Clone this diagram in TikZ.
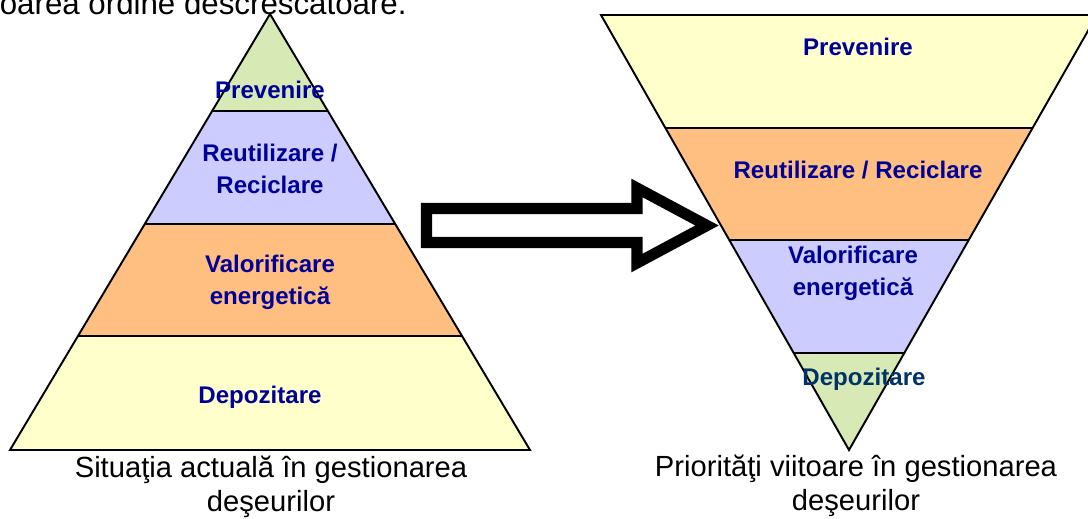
\documentclass[tikz,border=0pt]{standalone}
\usepackage{fontspec}
\setmainfont{Liberation Sans}
\definecolor{lblblue}{RGB}{0,0,153}
\definecolor{lbldark}{RGB}{0,51,102}
\definecolor{bandgreen}{RGB}{215,233,180}
\definecolor{bandviolet}{RGB}{204,204,255}
\definecolor{bandorange}{RGB}{255,191,128}
\definecolor{bandyellow}{RGB}{255,255,204}
\begin{document}
\begin{tikzpicture}[
                            x=0.02cm, y=-0.02cm,
                            >=latex,
                            bandtxt/.style={font=\bfseries\fontsize{13.7}{18.2}\selectfont, text=lblblue, align=center, inner sep=0pt},
                            captxt/.style={font=\fontsize{16.6}{19}\selectfont, align=center, inner sep=0pt},
                            outline/.style={draw=black, line width=1.1pt, line join=miter}
                        ]
                        \clip (0,0) rectangle (1088,518);

                        % Left pyramid
                        \begin{scope}
                            \clip (270,14) -- (530,450) -- (10,450) -- cycle;
                            \fill[bandgreen] (0,0) rectangle (1088,111);
                            \fill[bandviolet] (0,111) rectangle (1088,224);
                            \fill[bandorange] (0,224) rectangle (1088,336);
                            \fill[bandyellow] (0,336) rectangle (1088,450);
                            \draw[outline] (0,111) -- (1088,111) (0,224) -- (1088,224) (0,336) -- (1088,336);
                        \end{scope}
                        \draw[outline] (270,14) -- (530,450) -- (10,450) -- cycle;

                        % Right pyramid
                        \begin{scope}
                            \clip (601,15) -- (1097,15) -- (849,450) -- cycle;
                            \fill[bandyellow] (560,0) rectangle (1100,128);
                            \fill[bandorange] (560,128) rectangle (1100,240);
                            \fill[bandviolet] (560,240) rectangle (1100,353);
                            \fill[bandgreen] (560,353) rectangle (1100,460);
                            \draw[outline] (560,128) -- (1100,128) (560,240) -- (1100,240) (560,353) -- (1100,353);
                        \end{scope}
                        \draw[outline] (601,15) -- (1097,15) -- (849,450) -- cycle;

                        % Arrow
                        \draw[line width=6.3pt, line join=miter, miter limit=10]
                            (426.5,208.5) -- (637,208.5) -- (637,188) -- (707,225.5) -- (637,263) -- (637,242.5) -- (426.5,242.5) -- cycle;

                        % Labels
                        \node[captxt, font=\fontsize{17.8}{20}\selectfont, anchor=base east] (head) at (407,14.5) {oarea ordine descrescătoare.};
                        \node[bandtxt] (prevL) at (270,90) {Prevenire};
                        \node[bandtxt] (recL) at (270,169) {Reutilizare /\\Reciclare};
                        \node[bandtxt] (valL) at (270,282) {Valorificare\\energetică};
                        \node[bandtxt] (depL) at (260,397) {Depozitare};
                        \node[bandtxt] (prevR) at (858,47) {Prevenire};
                        \node[bandtxt] (recR) at (858,170) {Reutilizare / Reciclare};
                        \node[bandtxt] (valR) at (853,273) {Valorificare\\energetică};
                        \node[bandtxt, text=lbldark] (depR) at (864,379) {Depozitare};
                        \node[captxt] (capL) at (271,487) {Situaţia actuală în gestionarea\\deşeurilor};
                        \node[captxt] (capR) at (856,486) {Priorităţi viitoare în gestionarea\\deşeurilor};
                    \end{tikzpicture}
\end{document}
